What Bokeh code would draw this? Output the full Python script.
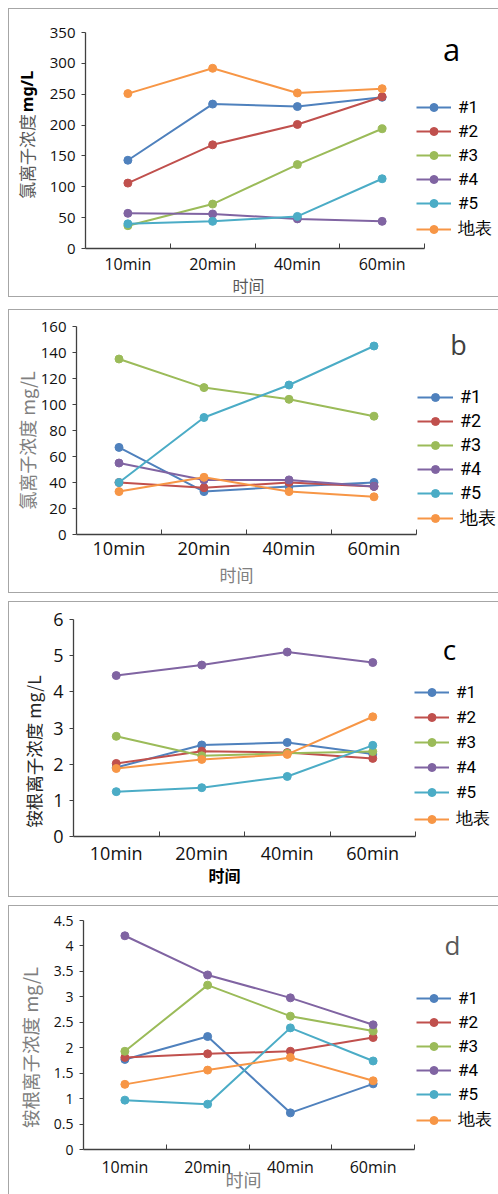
import math
from bokeh.plotting import figure
from bokeh.models import (Range1d, FixedTicker, Legend, LegendItem, Label,
                          NumeralTickFormatter)
from bokeh.layouts import column
from bokeh.embed import file_html
from bokeh.resources import INLINE

# ---------------- data ----------------
times = ["10min", "20min", "40min", "60min"]
series_names = ["#1", "#2", "#3", "#4", "#5", "地表"]
series_colors = ["#4F81BD", "#C0504D", "#9BBB59", "#8064A2", "#4BACC6", "#F79646"]

# panel a: chloride (mg/L)
a_s1 = [143, 234, 230, 245]
a_s2 = [106, 168, 201, 246]
a_s3 = [37, 72, 136, 194]
a_s4 = [57, 56, 48, 44]
a_s5 = [40, 44, 52, 113]
a_surface = [251, 292, 252, 259]
a_yticks = [0, 50, 100, 150, 200, 250, 300, 350]

# panel b: chloride (mg/L)
b_s1 = [67, 33, 37, 40]
b_s2 = [40, 36, 40, 37]
b_s3 = [135, 113, 104, 91]
b_s4 = [55, 42, 42, 37]
b_s5 = [40, 90, 115, 145]
b_surface = [33, 44, 33, 29]
b_yticks = [0, 20, 40, 60, 80, 100, 120, 140, 160]

# panel c: ammonium (mg/L)
c_s1 = [1.91, 2.53, 2.60, 2.28]
c_s2 = [2.02, 2.36, 2.32, 2.16]
c_s3 = [2.77, 2.23, 2.30, 2.35]
c_s4 = [4.45, 4.74, 5.10, 4.81]
c_s5 = [1.24, 1.35, 1.66, 2.52]
c_surface = [1.88, 2.13, 2.27, 3.31]
c_yticks = [0, 1, 2, 3, 4, 5, 6]

# panel d: ammonium (mg/L)
d_s1 = [1.77, 2.22, 0.72, 1.29]
d_s2 = [1.81, 1.88, 1.93, 2.20]
d_s3 = [1.93, 3.23, 2.62, 2.33]
d_s4 = [4.20, 3.43, 2.98, 2.45]
d_s5 = [0.97, 0.89, 2.39, 1.74]
d_surface = [1.28, 1.56, 1.81, 1.35]
d_yticks = [0, 0.5, 1, 1.5, 2, 2.5, 3, 3.5, 4, 4.5]

LAT = "Open Sans"
CJK = "Noto Sans CJK SC"
LEG = "Roboto"
FIG_W = 490


def px_range(lo_px, hi_px, lo_val, hi_val, total_px):
    """Range whose lo_val/hi_val land at the given pixel offsets of the canvas."""
    k = (hi_px - lo_px) / (hi_val - lo_val)
    start = lo_val - lo_px / k
    return Range1d(start, start + total_px / k)


def make_panel(series, yticks, letter, h, axis_px, tick_y_size, tick_x_size,
               x_standoff, legend_xy, legend_font, legend_spacing, glyph_w,
               letter_spec, titles, margin_top, css):
    # axis_px: (x of y-axis, x of axis end, y of zero line, y of top) from top-left
    xl, xr, y0, ytop = axis_px
    n = len(times)
    xs = [i + 0.5 for i in range(n)]
    p = figure(width=FIG_W, height=h,
               x_range=px_range(xl, xr, 0, n, FIG_W),
               y_range=px_range(h - y0, h - ytop, yticks[0], yticks[-1], h),
               output_backend="svg", toolbar_location=None,
               min_border_left=0, min_border_right=0,
               min_border_top=0, min_border_bottom=0,
               margin=(margin_top, 0, 0, 8), styles=css)
    p.title.visible = False
    p.grid.visible = False
    p.outline_line_color = None
    p.background_fill_color = "white"
    p.border_fill_color = "white"

    xa = p.xaxis[0]
    xa.fixed_location = yticks[0]
    xa.bounds = (0, n)
    xa.ticker = FixedTicker(ticks=xs, minor_ticks=list(range(1, n + 1)))
    xa.major_label_overrides = {x: t for x, t in zip(xs, times)}
    xa.major_tick_line_color = None
    xa.major_tick_in = 0
    xa.major_tick_out = 0
    xa.minor_tick_in = 5
    xa.minor_tick_out = 0
    xa.minor_tick_line_color = "#404040"
    xa.axis_line_color = "#404040"
    xa.axis_line_width = 1.3
    xa.major_label_text_font = LAT
    xa.major_label_text_font_size = tick_x_size
    xa.major_label_text_color = "#111111"
    xa.major_label_standoff = x_standoff

    ya = p.yaxis[0]
    ya.fixed_location = 0
    ya.bounds = (yticks[0], yticks[-1])
    ya.ticker = FixedTicker(ticks=yticks)
    ya.formatter = NumeralTickFormatter(format="0.[0]")
    ya.major_tick_in = 0
    ya.major_tick_out = 4
    ya.minor_tick_line_color = None
    ya.major_tick_line_color = "#404040"
    ya.axis_line_color = "#404040"
    ya.axis_line_width = 1.3
    ya.major_label_text_font = LAT
    ya.major_label_text_font_size = tick_y_size
    ya.major_label_text_color = "#111111"
    ya.major_label_standoff = 6

    items = []
    for name, color, vals in zip(series_names, series_colors, series):
        lr = p.line(xs, vals, line_color=color, line_width=2)
        sr = p.scatter(xs, vals, marker="circle", size=8, fill_color=color,
                       line_color=color)
        items.append(LegendItem(label=name, renderers=[lr, sr]))

    lg = Legend(items=items, location=legend_xy, orientation="vertical",
                glyph_width=glyph_w, glyph_height=20, label_height=20,
                spacing=legend_spacing, padding=0, margin=0,
                label_standoff=7, border_line_color=None,
                background_fill_alpha=0,
                label_text_font=LEG, label_text_font_size=legend_font,
                label_text_color="#000000")
    p.add_layout(lg, "center")

    (lx, ly, lsize, lcolor) = letter_spec
    p.add_layout(Label(x=lx, y=ly, x_units="screen", y_units="screen",
                       text=letter, text_align="center", text_baseline="middle",
                       text_font=LAT, text_font_size=lsize, text_color=lcolor))

    for (txt, tx, ty, size, color, style, font, vertical) in titles:
        p.add_layout(Label(x=tx, y=ty, x_units="screen", y_units="screen",
                           text=txt, angle=(math.pi / 2 if vertical else 0),
                           text_align="center", text_baseline="middle",
                           text_font=font, text_font_size=size,
                           text_color=color, text_font_style=style))
    return p


def border_css(bottom=True):
    css = {"border-left": "1px solid #a6a6a6", "border-top": "1px solid #a6a6a6",
           "box-sizing": "border-box"}
    if bottom:
        css["border-bottom"] = "1px solid #a6a6a6"
    return css


pa = make_panel([a_s1, a_s2, a_s3, a_s4, a_s5, a_surface], a_yticks, "a", 289,
                (76, 415, 239, 23), "15px", "16px", 4, (407, 58), "17px", 4, 35,
                (442, 250, "31px", "#000000"),
                [("氯离子浓度", 17, 142, "17px", "#595959", "normal", CJK, True),
                 ("mg/L", 17, 207, "16px", "#000000", "bold", "Noto Sans", True),
                 ("时间", 239, 14, "16px", "#595959", "normal", CJK, False)],
                8, border_css())

pb = make_panel([b_s1, b_s2, b_s3, b_s4, b_s5, b_surface], b_yticks, "b", 284,
                (67, 407, 224, 16), "15px", "18px", 1, (408, 64), "18px", 3, 36,
                (449, 250, "27px", "#404040"),
                [("氯离子浓度 mg/L", 17, 154, "18px", "#808080", "normal", CJK, True),
                 ("时间", 227, 20, "17px", "#808080", "normal", CJK, False)],
                12, border_css())

pc = make_panel([c_s1, c_s2, c_s3, c_s4, c_s5, c_surface], c_yticks, "c", 296,
                (64, 406, 234, 17), "18px", "18px", 4, (405, 68), "17px", 5, 35,
                (440, 250, "28px", "#000000"),
                [("铵根离子浓度 mg/L", 24, 147, "17.5px", "#262626", "normal", CJK, True),
                 ("时间", 215, 24, "16px", "#000000", "bold", CJK, False)],
                8, border_css())

pd = make_panel([d_s1, d_s2, d_s3, d_s4, d_s5, d_surface], d_yticks, "d", 289,
                (74, 405, 243, 14), "14px", "16px", 6, (407, 64), "17px", 4, 35,
                (443, 251, "26px", "#595959"),
                [("铵根离子浓度 mg/L", 20, 148, "18.5px", "#808080", "normal", CJK, True),
                 ("时间", 234, 17, "18px", "#808080", "normal", CJK, False)],
                8, border_css(bottom=False))

layout = column(pa, pb, pc, pd, spacing=0)
open("out.html", "w").write(file_html(layout, INLINE))
